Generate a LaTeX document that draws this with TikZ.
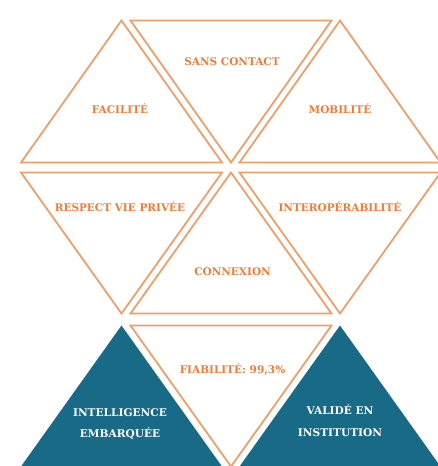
\documentclass[tikz,border=0pt]{standalone}
\usepackage{fontspec}
\setmainfont{DejaVu Serif}
\definecolor{tline}{HTML}{EFA06A}
\definecolor{ttext}{HTML}{F07C35}
\definecolor{teal}{HTML}{186A87}
\begin{document}
\begin{tikzpicture}[x=1pt,y=-1pt,
  tri/.style={draw=tline,line width=1.8pt,line join=miter},
  tealtri/.style={fill=teal,draw=none},
  lbl/.style={text=ttext,font=\bfseries\fontsize{10.5}{12}\selectfont,inner sep=0pt},
  wlbl/.style={text=white,font=\bfseries\fontsize{10.6}{21.7}\selectfont,inner sep=0pt,align=center}]
\useasboundingbox (0,0) rectangle (438,466);
\fill[white] (0,0) rectangle (438,466);
\begin{scope}
\clip (0,0) rectangle (438,466);
% row 1
\draw[tri] (21,162.5) -- (121.5,20.5) -- (222,162.5) -- cycle;
\draw[tri] (130.5,20.5) -- (331.5,20.5) -- (231,162.5) -- cycle;
\draw[tri] (239.5,162.5) -- (340,20.5) -- (440.5,162.5) -- cycle;
% row 2
\draw[tri] (21,172.5) -- (222,172.5) -- (121.5,313.5) -- cycle;
\draw[tri] (130.5,313.5) -- (231,172.5) -- (331.5,313.5) -- cycle;
\draw[tri] (239.5,172.5) -- (440.5,172.5) -- (340,313.5) -- cycle;
% row 3
\fill[tealtri] (21,466.5) -- (121.5,325.5) -- (222,466.5) -- cycle;
\draw[tri] (130.5,325.5) -- (331.5,325.5) -- (231,466.5) -- cycle;
\fill[tealtri] (239.5,466.5) -- (340,325.5) -- (440.5,466.5) -- cycle;
\end{scope}
\node[lbl] (sans) at (232,62) {SANS CONTACT};
\node[lbl] (fac) at (120,109) {FACILITÉ};
\node[lbl] (mob) at (340,109) {MOBILITÉ};
\node[lbl] (resp) at (120,206.5) {RESPECT VIE PRIVÉE};
\node[lbl] (inter) at (340,206.5) {INTEROPÉRABILITÉ};
\node[lbl] (conn) at (232.5,271.5) {CONNEXION};
\node[lbl] (fiab) at (232.5,369) {FIABILITÉ: 99,3\%};
\node[wlbl] (intel) at (120,424) {INTELLIGENCE\\EMBARQUÉE};
\node[wlbl] (valid) at (340,421) {VALIDÉ EN\\INSTITUTION};
\end{tikzpicture}
\end{document}
